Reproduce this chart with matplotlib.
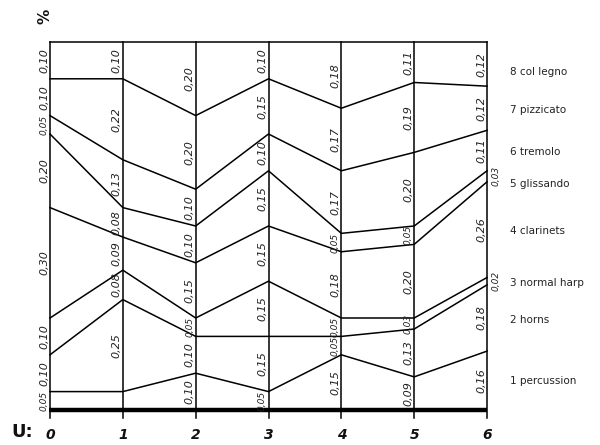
import numpy as np
import matplotlib
matplotlib.use("Agg")
import matplotlib.pyplot as plt
from matplotlib.transforms import offset_copy

# Sections (x axis)
sections = [0, 1, 2, 3, 4, 5, 6]
# Bands from bottom to top
instruments = ["1 percussion", "2 horns", "3 normal harp", "4 clarinets",
               "5 glissando", "6 tremolo", "7 pizzicato", "8 col legno"]
percussion = [0.05, 0.05, 0.10, 0.05, 0.15, 0.09, 0.16]
horns      = [0.10, 0.25, 0.10, 0.15, 0.05, 0.13, 0.18]
harp       = [0.10, 0.08, 0.05, 0.15, 0.05, 0.03, 0.02]
clarinets  = [0.30, 0.09, 0.15, 0.15, 0.18, 0.20, 0.26]
glissando  = [0.20, 0.08, 0.10, 0.15, 0.05, 0.05, 0.03]
tremolo    = [0.05, 0.13, 0.10, 0.10, 0.17, 0.20, 0.11]
pizzicato  = [0.10, 0.22, 0.20, 0.15, 0.17, 0.19, 0.12]
col_legno  = [0.10, 0.10, 0.20, 0.10, 0.18, 0.11, 0.12]
# value labels not written on the chart: (section index, band index)
unlabeled = [(1, 0)]
# value labels written right of the line: (section index, band index)
right_side = [(6, 2), (6, 4)]
# vertical pixel nudge of the instrument names (bottom to top)
name_nudge = [0, -2, -2, -1, -8, -1, -2, -8]

bands = np.array([percussion, horns, harp, clarinets, glissando,
                  tremolo, pizzicato, col_legno])
cum = np.vstack([np.zeros(len(sections)), np.cumsum(bands, axis=0)])

fig = plt.figure(figsize=(6.0, 4.45), dpi=100)
ax = fig.add_axes([50/600, 35/445, 437/600, 368/445])
ax.set_xlim(0, 6)
ax.set_ylim(0, 1)
ax.axis("off")

lw = 1.1
# vertical section lines
for x in sections:
    ax.plot([x, x], [-0.022, 1.0], color="black", lw=lw, clip_on=False)
# top border
ax.plot([0, 6], [1, 1], color="black", lw=lw, clip_on=False)
# bottom thick line
ax.plot([-0.02, 6], [0, 0], color="black", lw=3.2, clip_on=False,
        solid_capstyle="butt")
# band boundaries
for k in range(1, len(instruments)):
    ax.plot(sections, cum[k], color="black", lw=lw, clip_on=False)

# value labels
tl = offset_copy(ax.transData, fig=fig, x=-6, y=0, units="dots")
tr = offset_copy(ax.transData, fig=fig, x=9, y=0, units="dots")
for i, x in enumerate(sections):
    for b in range(len(instruments)):
        if (i, b) in unlabeled:
            continue
        v = bands[b, i]
        mid = (cum[b, i] + cum[b + 1, i]) / 2
        txt = ("%.2f" % v).replace(".", ",")
        tf = tr if (i, b) in right_side else tl
        fs = 6.5 if v <= 0.05 + 1e-9 else 8
        ax.text(x, mid, txt, transform=tf, rotation=90, ha="center",
                va="center", fontsize=fs, fontstyle="italic",
                color="#222222")

# section numbers
for x in sections:
    ax.text(x, -0.05, str(x), ha="center", va="top", fontsize=10,
            fontweight="bold", fontstyle="italic", color="#111111")
fig.text(22/600, 1 - 432/445, "U:", ha="center", va="center",
         fontsize=13, fontweight="bold", color="#111111")
fig.text(45/600, 1 - 16/445, "%", ha="center", va="center",
         fontsize=11, fontweight="bold", rotation=90, color="#111111")

# instrument labels at right
for b, name in enumerate(instruments):
    mid = (cum[b, -1] + cum[b + 1, -1]) / 2
    tlab = offset_copy(ax.transData, fig=fig, x=23, y=name_nudge[b],
                       units="dots")
    ax.text(6, mid, name, transform=tlab, ha="left", va="center",
            fontsize=7.5, color="#222222")

fig.savefig("out.png", dpi=100, facecolor="white")
